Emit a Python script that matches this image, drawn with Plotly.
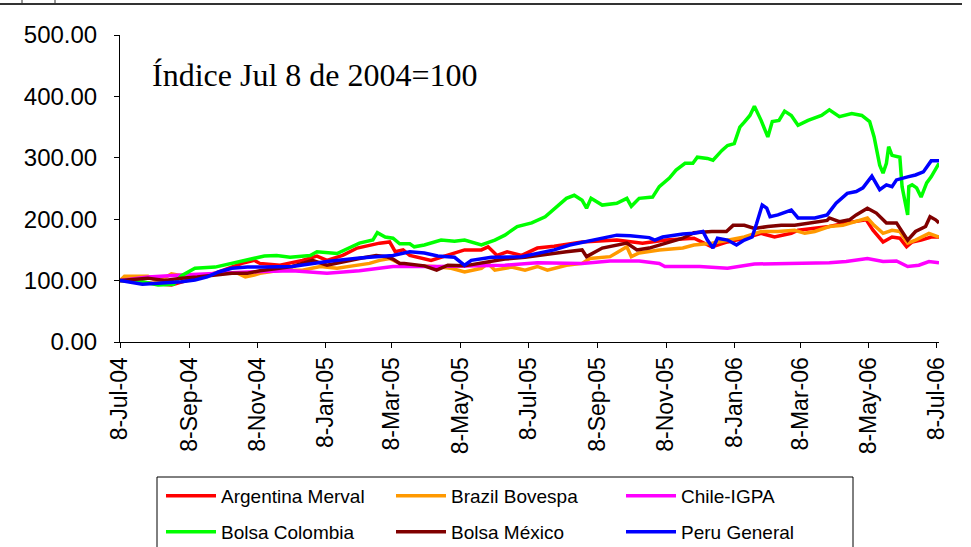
import plotly.graph_objects as go

# ---------------- data ----------------
series_names = ["Argentina Merval", "Brazil Bovespa", "Chile-IGPA",
                "Bolsa Colombia", "Bolsa México", "Peru General"]
series_colors = ["#FF0000", "#FF9900", "#FF00FF", "#00FF00", "#800000", "#0000FF"]

argentina = [("2004-07-08",100),("2004-07-28",97),("2004-08-23",93),("2004-09-13",104),("2004-10-01",112),
    ("2004-10-25",128),("2004-11-05",133),("2004-11-10",128),("2004-11-28",125),("2004-12-18",133),
    ("2004-12-31",140),("2005-01-09",133),("2005-01-23",141),("2005-02-05",153),("2005-02-16",158),
    ("2005-02-25",161),("2005-03-06",163),("2005-03-11",147),("2005-03-18",150),("2005-03-24",141),
    ("2005-04-12",133),("2005-04-27",141),("2005-05-12",150),("2005-05-27",150),("2005-06-02",155),
    ("2005-06-10",141),("2005-06-19",147),("2005-07-02",141),("2005-07-16",153),("2005-07-31",156),
    ("2005-08-25",163),("2005-09-25",166),("2005-10-18",161),("2005-11-08",166),("2005-11-29",169),
    ("2005-12-03",169),("2005-12-19",155),("2006-01-02",163),("2006-01-17",169),("2006-02-01",177),
    ("2006-02-13",171),("2006-02-28",177),("2006-03-06",182),("2006-03-18",185),("2006-04-03",188),
    ("2006-04-18",194),("2006-04-27",196),("2006-05-06",199),("2006-05-12",182),("2006-05-21",163),
    ("2006-05-29",171),("2006-06-05",169),("2006-06-11",155),("2006-06-16",163),("2006-06-24",166),
    ("2006-07-03",171),("2006-07-10",171)]

brazil = [("2004-07-08",100),("2004-07-12",107),("2004-08-02",107),("2004-08-11",98),("2004-08-23",111),
    ("2004-09-07",106),("2004-09-22",109),("2004-10-07",114),("2004-10-21",112),("2004-10-28",106),
    ("2004-11-05",109),("2004-11-10",112),("2004-11-28",117),("2004-12-18",117),("2005-01-03",123),
    ("2005-01-18",120),("2005-02-01",124),("2005-02-16",128),("2005-02-25",133),("2005-03-06",136),
    ("2005-03-15",128),("2005-03-19",125),("2005-04-15",123),("2005-04-30",120),("2005-05-12",114),
    ("2005-05-27",120),("2005-06-02",128),("2005-06-08",117),("2005-06-23",122),("2005-07-05",117),
    ("2005-07-16",123),("2005-07-25",117),("2005-08-11",125),("2005-08-25",128),("2005-09-01",136),
    ("2005-09-19",139),("2005-10-04",155),("2005-10-08",139),("2005-10-15",145),("2005-11-02",150),
    ("2005-11-23",153),("2005-12-03",158),("2005-12-19",161),("2006-01-02",166),("2006-01-17",171),
    ("2006-02-01",180),("2006-02-16",180),("2006-03-03",182),("2006-03-12",177),("2006-03-21",180),
    ("2006-04-03",188),("2006-04-15",190),("2006-04-27",196),("2006-05-07",202),("2006-05-13",190),
    ("2006-05-21",177),("2006-05-29",182),("2006-06-05",180),("2006-06-12",161),("2006-06-19",166),
    ("2006-07-01",177),("2006-07-10",171)]

chile = [("2004-07-08",100),("2004-08-02",106),("2004-09-01",109),("2004-10-01",112),("2004-10-30",114),
    ("2004-12-09",116),("2005-01-09",112),("2005-02-07",116),("2005-03-09",123),("2005-04-18",123),
    ("2005-05-18",124),("2005-06-17",125),("2005-07-16",129),("2005-08-25",128),("2005-09-19",132),
    ("2005-10-15",132),("2005-11-02",128),("2005-11-07",123),("2005-12-08",123),("2006-01-02",120),
    ("2006-01-26",127),("2006-02-22",128),("2006-04-03",129),("2006-04-18",131),("2006-05-07",136),
    ("2006-05-21",131),("2006-06-02",132),("2006-06-12",123),("2006-06-22",125),("2006-07-01",131),
    ("2006-07-10",129)]

colombia = [("2004-07-08",100),("2004-07-28",98),("2004-08-11",93),("2004-08-25",94),("2004-09-01",108),
    ("2004-09-13",120),("2004-10-01",122),("2004-10-16",128),("2004-11-05",136),("2004-11-14",140),
    ("2004-11-25",141),("2004-12-07",138),("2004-12-25",141),("2004-12-31",147),("2005-01-18",144),
    ("2005-01-29",153),("2005-02-07",161),("2005-02-19",166),("2005-02-23",178),("2005-03-02",171),
    ("2005-03-09",169),("2005-03-15",160),("2005-03-24",160),("2005-03-28",155),("2005-04-06",158),
    ("2005-04-21",166),("2005-05-03",164),("2005-05-12",166),("2005-05-27",158),("2005-06-08",166),
    ("2005-06-17",174),("2005-06-28",188),("2005-07-11",194),("2005-07-23",204),("2005-08-02",220),
    ("2005-08-11",234),("2005-08-18",239),("2005-08-25",231),("2005-08-29",218),("2005-09-02",234),
    ("2005-09-12",223),("2005-09-25",226),("2005-10-04",234),("2005-10-08",221),("2005-10-15",234),
    ("2005-10-27",236),("2005-11-02",253),("2005-11-11",267),("2005-11-17",280),("2005-11-25",291),
    ("2005-12-02",291),("2005-12-06",301),("2005-12-15",299),("2005-12-20",296),("2005-12-28",312),
    ("2006-01-02",320),("2006-01-08",323),("2006-01-13",350),("2006-01-17",358),("2006-01-22",369),
    ("2006-01-26",384),("2006-02-01",361),("2006-02-07",334),("2006-02-11",359),("2006-02-17",361),
    ("2006-02-22",376),("2006-02-28",369),("2006-03-06",353),("2006-03-15",361),("2006-03-27",369),
    ("2006-04-03",378),("2006-04-12",367),("2006-04-23",372),("2006-05-02",369),("2006-05-09",359),
    ("2006-05-13",334),("2006-05-18",288),("2006-05-21",275),("2006-05-24",291),("2006-05-26",318),
    ("2006-05-29",304),("2006-06-05",301),("2006-06-07",253),("2006-06-12",207),("2006-06-13",253),
    ("2006-06-16",256),("2006-06-20",251),("2006-06-24",236),("2006-06-29",259),("2006-07-03",269),
    ("2006-07-10",291)]

mexico = [("2004-07-08",100),("2004-08-02",104),("2004-08-17",100),("2004-09-01",104),("2004-09-15",106),
    ("2004-10-01",109),("2004-10-16",112),("2004-10-30",112),("2004-11-10",116),("2004-12-09",123),
    ("2004-12-27",133),("2005-01-09",125),("2005-01-23",131),("2005-02-07",136),("2005-02-22",141),
    ("2005-03-03",139),("2005-03-09",135),("2005-03-15",128),("2005-03-19",128),("2005-04-06",124),
    ("2005-04-17",117),("2005-04-27",125),("2005-05-12",124),("2005-06-02",131),("2005-06-17",135),
    ("2005-07-05",138),("2005-07-16",141),("2005-07-31",144),("2005-08-11",147),("2005-08-25",150),
    ("2005-08-29",139),("2005-09-12",153),("2005-10-04",161),("2005-10-13",150),("2005-10-24",153),
    ("2005-11-08",161),("2005-11-23",169),("2005-12-03",178),("2005-12-19",180),("2006-01-01",180),
    ("2006-01-07",190),("2006-01-17",190),("2006-01-26",185),("2006-02-07",188),("2006-02-19",190),
    ("2006-03-03",190),("2006-03-18",194),("2006-04-01",198),("2006-04-03",202),("2006-04-12",196),
    ("2006-04-21",199),("2006-04-27",207),("2006-05-07",218),("2006-05-15",210),("2006-05-24",194),
    ("2006-06-02",194),("2006-06-12",166),("2006-06-19",180),("2006-06-28",188),("2006-07-02",204),
    ("2006-07-07",199),("2006-07-10",194)]

peru = [("2004-07-08",100),("2004-07-28",94),("2004-09-01",98),("2004-09-13",101),("2004-09-24",106),
    ("2004-10-04",114),("2004-10-16",120),("2004-10-30",122),("2004-11-14",122),("2004-12-09",123),
    ("2005-01-09",131),("2005-02-07",137),("2005-03-09",141),("2005-03-24",147),("2005-04-06",145),
    ("2005-04-18",140),("2005-05-03",138),("2005-05-12",125),("2005-05-18",133),("2005-06-05",138),
    ("2005-07-02",139),("2005-07-16",145),("2005-07-31",150),("2005-08-14",158),("2005-09-03",166),
    ("2005-09-25",174),("2005-10-07",173),("2005-10-24",170),("2005-10-29",166),("2005-11-05",171),
    ("2005-11-23",176),("2005-12-03",177),("2005-12-11",180),("2005-12-15",166),("2005-12-20",153),
    ("2005-12-24",169),("2006-01-02",166),("2006-01-10",158),("2006-01-17",166),("2006-01-24",171),
    ("2006-01-28",193),("2006-01-31",210),("2006-02-02",223),("2006-02-06",218),("2006-02-09",204),
    ("2006-02-16",207),("2006-02-28",215),("2006-03-06",202),("2006-03-21",202),("2006-04-01",207),
    ("2006-04-09",226),("2006-04-19",242),("2006-04-27",245),("2006-05-03",251),("2006-05-11",270),
    ("2006-05-18",248),("2006-05-24",256),("2006-05-29",253),("2006-06-02",264),("2006-06-12",269),
    ("2006-06-19",272),("2006-06-26",277),("2006-07-03",295),("2006-07-10",295)]

x_tick_values = ["2004-07-08","2004-09-08","2004-11-08","2005-01-08","2005-03-08","2005-05-08",
                 "2005-07-08","2005-09-08","2005-11-08","2006-01-08","2006-03-08","2006-05-08","2006-07-08"]
x_tick_labels = ["8-Jul-04","8-Sep-04","8-Nov-04","8-Jan-05","8-Mar-05","8-May-05",
                 "8-Jul-05","8-Sep-05","8-Nov-05","8-Jan-06","8-Mar-06","8-May-06","8-Jul-06"]
y_tick_values = [0, 100, 200, 300, 400, 500]
y_tick_labels = ["0.00", "100.00", "200.00", "300.00", "400.00", "500.00"]
note_text = "Índice Jul 8 de 2004=100"

# ---------------- layout geometry (pixels) ----------------
W, H = 971, 547
PL, PR, PT, PB = 120, 939, 35, 342


def px(x):
    return (x - PL) / (PR - PL)


def py(y):
    return (PB - y) / (PB - PT)


fig = go.Figure()
all_series = [argentina, brazil, chile, colombia, mexico, peru]
for i, (name, color, pts) in enumerate(zip(series_names, series_colors, all_series)):
    fig.add_trace(go.Scatter(
        x=[p[0] for p in pts], y=[p[1] for p in pts], name=name, mode="lines",
        line=dict(color=color, width=3.5),
        legend="legend" if i < 3 else "legend2",
    ))

SANS = "Liberation Sans, Arial, sans-serif"
SERIF = "Liberation Serif, Times New Roman, serif"

legend_common = dict(orientation="h", xanchor="left", yanchor="middle",
                     font=dict(family=SANS, size=19, color="black"),
                     bgcolor="rgba(0,0,0,0)", borderwidth=0,
                     entrywidth=165, itemwidth=50, traceorder="normal")

fig.update_layout(
    width=W, height=H,
    margin=dict(l=PL, r=W - PR, t=PT, b=H - PB, autoexpand=False),
    paper_bgcolor="white", plot_bgcolor="white",
    showlegend=True,
    legend=dict(x=px(161), y=py(496), **legend_common),
    legend2=dict(x=px(161), y=py(532), **legend_common),
    xaxis=dict(type="date", range=["2004-07-08", "2006-07-10"],
               tickmode="array", tickvals=x_tick_values, ticktext=x_tick_labels,
               tickangle=-90, ticks="outside", ticklen=5, tickcolor="black",
               showline=True, linecolor="black", linewidth=1,
               showgrid=False, zeroline=False,
               tickfont=dict(family=SANS, size=23, color="black")),
    yaxis=dict(range=[0, 500], tickmode="array", tickvals=y_tick_values, ticktext=y_tick_labels,
               ticks="outside", ticklen=5, tickcolor="black",
               showline=True, linecolor="black", linewidth=1,
               showgrid=False, zeroline=False, ticklabelstandoff=12,
               tickfont=dict(family=SANS, size=24, color="black")),
    annotations=[dict(text=note_text, x=px(150), y=py(75), xref="paper", yref="paper",
                      xanchor="left", yanchor="middle", showarrow=False,
                      font=dict(family=SERIF, size=32, color="black"))],
    shapes=[
        dict(type="rect", xref="paper", yref="paper", x0=px(157), x1=px(853), y0=py(477), y1=py(600),
             line=dict(color="black", width=1), fillcolor="white", layer="below"),
        dict(type="line", xref="paper", yref="paper", x0=px(0), x1=px(962), y0=py(4), y1=py(4),
             line=dict(color="#333333", width=2)),
        dict(type="line", xref="paper", yref="paper", x0=px(22), x1=px(22), y0=py(0), y1=py(4),
             line=dict(color="#333333", width=1)),
        dict(type="line", xref="paper", yref="paper", x0=px(55), x1=px(55), y0=py(0), y1=py(4),
             line=dict(color="#333333", width=1)),
    ],
)

fig.write_html("out.html", config={"displayModeBar": False},
               post_script="document.body.style.margin='0';document.body.style.padding='0';")
